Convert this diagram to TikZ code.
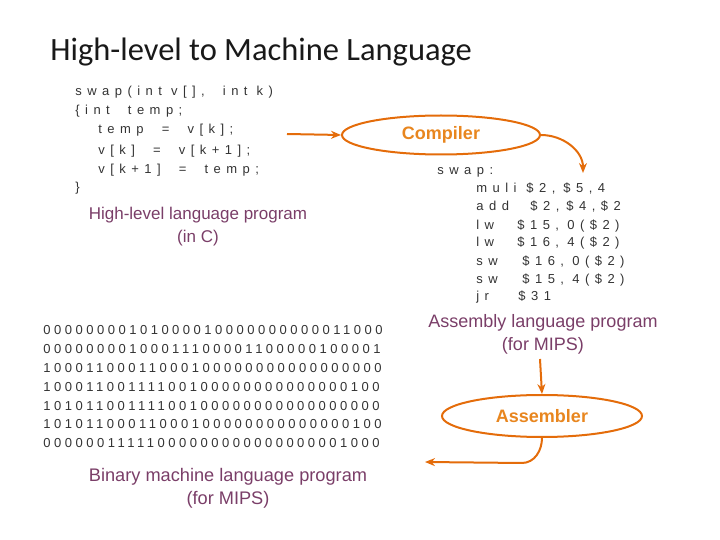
\documentclass[tikz,border=0pt]{standalone}
\usepackage{fontspec}
\setmainfont{Liberation Sans}
\newfontfamily\titlefont{Carlito}
\newfontfamily\codefont[LetterSpace=42]{Liberation Sans}
\newfontfamily\binfont[LetterSpace=27]{Liberation Sans}
\usetikzlibrary{shapes.geometric,arrows.meta}
\definecolor{orng}{HTML}{E46C0A}
\definecolor{ortext}{HTML}{E8861F}
\definecolor{mauve}{HTML}{7A3E68}
\definecolor{codegray}{HTML}{333333}
\begin{document}
\begin{tikzpicture}[x=0.5pt,y=-0.5pt,
  codeline/.style={anchor=west,inner sep=0pt,text=codegray,font=\codefont\fontsize{6.5}{7}\selectfont},
  binline/.style={anchor=west,inner sep=0pt,text=codegray,font=\binfont\fontsize{6.5}{7}\selectfont},
  label/.style={align=center,inner sep=0pt,text=mauve,font=\fontsize{8.5}{11.5}\selectfont},
  proc/.style={ellipse,draw=orng,line width=1pt,inner sep=0pt,text=ortext,font=\bfseries\fontsize{9}{10}\selectfont},
  flow/.style={draw=orng,line width=1pt,-{Stealth[length=5pt,width=4pt]}}]
\useasboundingbox (0,0) rectangle (720,540);
% title
\node[anchor=west,inner sep=0pt,text=black!90,font=\titlefont\fontsize{16.25}{18}\selectfont] (title) at (50,52) {High-level to Machine Language};
% C code
\node[codeline] (c1) at (75,92) {swap(int\ v[],\ \ int\ k)};
\node[codeline] (c2) at (75,111) {\{int\ \ temp;};
\node[codeline] (c3) at (98,130) {temp\ \ =\ \ v[k];};
\node[codeline] (c4) at (98,151) {v[k]\ \ =\ \ v[k+1];};
\node[codeline] (c5) at (98,170) {v[k+1]\ \ =\ \ temp;};
\node[codeline] (c6) at (75,188) {\}};
\node[label] (hl) at (198,227) {High-level language program\\(in C)};
% compiler
\node[proc,minimum width=99pt,minimum height=19.5pt] (comp) at (441,135) {Compiler};
\coordinate (cin) at (287,134);
\coordinate (cout) at (583,173);
\draw[flow] (cin) -- (comp.west);
\draw[flow] (comp.east) to[out=0,in=90] (cout);
% assembly
\node[codeline] (a0) at (437,172) {swap:};
\node[codeline] (a1) at (476,189) {\makebox[25pt][l]{muli}\makebox[18.5pt][l]{\$2,}\$5,4};
\node[codeline] (a2) at (476,207) {\makebox[27pt][l]{add}\makebox[18pt][l]{\$2,}\$4,\$2};
\node[codeline] (a3) at (476,226) {\makebox[20.5pt][l]{lw}\makebox[25pt][l]{\$15,}0(\$2)};
\node[codeline] (a4) at (476,243) {\makebox[20.5pt][l]{lw}\makebox[25pt][l]{\$16,}4(\$2)};
\node[codeline] (a5) at (476,262) {\makebox[23pt][l]{sw}\makebox[25pt][l]{\$16,}0(\$2)};
\node[codeline] (a6) at (476,280) {\makebox[23pt][l]{sw}\makebox[25pt][l]{\$15,}4(\$2)};
\node[codeline] (a7) at (476,297) {\makebox[21pt][l]{jr}\$31};
\node[label,font=\fontsize{9}{11.5}\selectfont] (al) at (543,334) {Assembly language program\\(for MIPS)};
% assembler
\node[proc,minimum width=100pt,minimum height=21pt] (asm) at (542,416) {Assembler};
\coordinate (ain) at (540,359);
\coordinate (aout) at (425,462);
\draw[flow] (ain) -- (asm.north);
\draw[flow] (asm.south) to[out=-90,in=0] (522,463) -- (aout);
% binary
\node[binline] (b1) at (43,330) {00000000101000010000000000011000};
\node[binline] (b2) at (43,349) {00000000100011100001100000100001};
\node[binline] (b3) at (43,368) {10001100011000100000000000000000};
\node[binline] (b4) at (43,387) {10001100111100100000000000000100};
\node[binline] (b5) at (43,406) {10101100111100100000000000000000};
\node[binline] (b6) at (43,424) {10101100011000100000000000000100};
\node[binline] (b7) at (43,443) {00000011111000000000000000001000};
\node[label,font=\fontsize{9.1}{11.5}\selectfont] (bl) at (228,488) {Binary machine language program\\(for MIPS)};
\end{tikzpicture}
\end{document}
